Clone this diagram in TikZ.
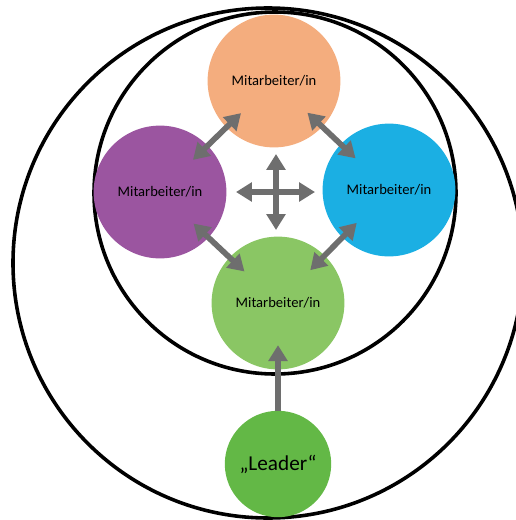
\documentclass[tikz,border=0pt]{standalone}
\usepackage{fontspec}
\setmainfont{Carlito}
\usetikzlibrary{arrows.meta}
\definecolor{peach}{HTML}{F4AD7E}
\definecolor{violet}{HTML}{9B55A0}
\definecolor{sky}{HTML}{1BAFE3}
\definecolor{lightgreen}{HTML}{8AC664}
\definecolor{leadgreen}{HTML}{63B846}
\definecolor{arrowgray}{HTML}{6E6E6E}
\tikzset{
    member/.style={circle, minimum size=3.52cm, inner sep=0pt, font=\fontsize{11}{13}\selectfont},
    ring/.style={draw=black, line width=2.7pt},
    link/.style={draw=arrowgray, line width=4.3pt, {Triangle[width=14pt,length=12pt]}-{Triangle[width=14pt,length=12pt]}},
    push/.style={draw=arrowgray, line width=4.3pt, -{Triangle[width=14pt,length=12pt]}}
}
\begin{document}
\begin{tikzpicture}[x=0.0265cm, y=-0.0265cm]
    \useasboundingbox (0, 0) rectangle (516, 520);
    \clip (0, 0) rectangle (516, 520);
    \draw[ring] (268, 263) circle (255);
    \draw[ring] (275, 193) circle (181);
    \node[member, fill=peach] (top) at (274, 81) {Mitarbeiter/in};
    \node[member, fill=violet] (left) at (160, 192) {Mitarbeiter/in};
    \node[member, fill=sky] (right) at (389, 190) {Mitarbeiter/in};
    \node[member, fill=lightgreen] (bottom) at (278, 303) {Mitarbeiter/in};
    \node[circle, minimum size=2.82cm, inner sep=0pt, fill=leadgreen, font=\fontsize{16}{19}\selectfont] (leader) at (278, 464) {„Leader“};
    \coordinate (midW) at (236, 192);
    \coordinate (midE) at (315, 192);
    \coordinate (midN) at (276, 154);
    \coordinate (midS) at (276, 230);
    \draw[link, shorten <=1.22cm, shorten >=1.22cm] (top.center) -- (left.center);
    \draw[link, shorten <=1.22cm, shorten >=1.22cm] (top.center) -- (right.center);
    \draw[link, shorten <=1.22cm, shorten >=1.22cm] (left.center) -- (bottom.center);
    \draw[link, shorten <=1.22cm, shorten >=1.22cm] (right.center) -- (bottom.center);
    \draw[link] (midW) -- (midE);
    \draw[link] (midN) -- (midS);
    \draw[push, shorten >=-0.65cm] (leader) -- (bottom);
\end{tikzpicture}
\end{document}
